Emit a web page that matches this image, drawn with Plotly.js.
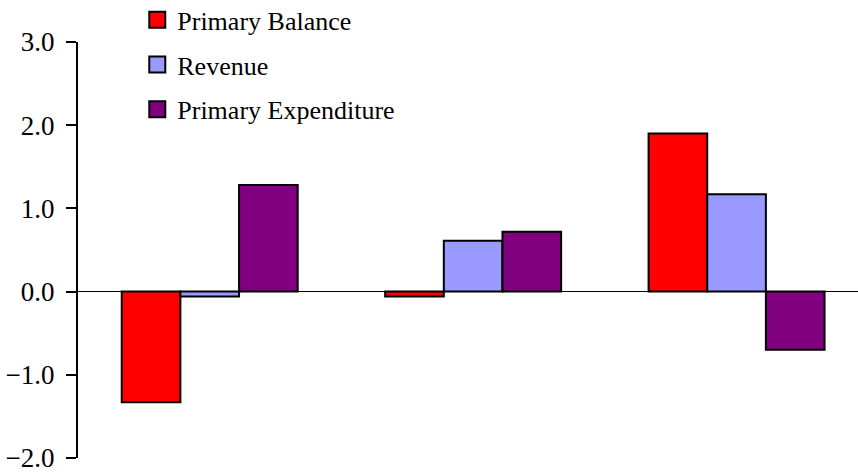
<!DOCTYPE html>
<html>
<head>
<meta charset="utf-8">
<script src="https://cdn.plot.ly/plotly-3.0.1.min.js"></script>
<style>
  html, body { margin: 0; padding: 0; background: #ffffff; }
  #chart { width: 858px; height: 475px; }
</style>
</head>
<body>
<div id="chart"></div>
<script>
// Change in fiscal aggregates, three periods
const periods = ["Period 1", "Period 2", "Period 3"];
const primaryBalance = [-1.33, -0.06, 1.90];
const revenue = [-0.06, 0.61, 1.17];
const primaryExpenditure = [1.28, 0.72, -0.70];

const seriesNames = ["Primary Balance", "Revenue", "Primary Expenditure"];
const seriesColors = ["#ff0000", "#9999ff", "#800080"];
const seriesValues = [primaryBalance, revenue, primaryExpenditure];

const SERIF = "'Liberation Serif', 'Times New Roman', Times, serif";

// bars (legend entries are drawn by the square-marker traces below)
const barTraces = seriesValues.map((vals, i) => ({
  type: "bar",
  name: seriesNames[i],
  x: periods,
  y: vals,
  showlegend: false,
  marker: { color: seriesColors[i], line: { color: "#000000", width: 2 } },
  hoverinfo: "name+y"
}));

// legend keys with larger squares than the default bar swatch
const keyTraces = seriesNames.map((name, i) => ({
  type: "scatter",
  mode: "markers",
  name: name,
  legendgroup: "g" + i,
  x: [null],
  y: [null],
  showlegend: true,
  marker: { symbol: "square", size: 16, color: seriesColors[i], line: { color: "#000000", width: 2 } }
}));

const layout = {
  width: 858,
  height: 475,
  margin: { l: 78, r: 0, t: 42, b: 17, pad: 0, autoexpand: false },
  paper_bgcolor: "#ffffff",
  plot_bgcolor: "#ffffff",
  font: { family: SERIF, color: "#000000" },
  barmode: "group",
  bargap: 0.332,
  bargroupgap: 0,
  showlegend: true,
  legend: {
    x: 0.076, y: 1.11, xanchor: "left", yanchor: "top",
    bgcolor: "rgba(0,0,0,0)",
    font: { size: 26, family: SERIF },
    traceorder: "grouped",
    tracegroupgap: 8,
    itemsizing: "trace"
  },
  xaxis: {
    range: [-0.5, 2.461],
    showticklabels: false,
    ticks: "",
    showline: false,
    showgrid: false,
    zeroline: false,
    fixedrange: true
  },
  yaxis: {
    range: [-2, 3],
    dtick: 1,
    tick0: 0,
    tickformat: ".1f",
    ticks: "outside",
    ticklen: 10,
    tickwidth: 2,
    tickcolor: "#000000",
    showline: true,
    linewidth: 2,
    linecolor: "#000000",
    showgrid: false,
    zeroline: true,
    zerolinecolor: "#000000",
    zerolinewidth: 1,
    ticklabelstandoff: 6,
    tickfont: { size: 27, family: SERIF },
    fixedrange: true
  }
};

Plotly.newPlot("chart", barTraces.concat(keyTraces), layout, { displayModeBar: false, staticPlot: true });
</script>
</body>
</html>
